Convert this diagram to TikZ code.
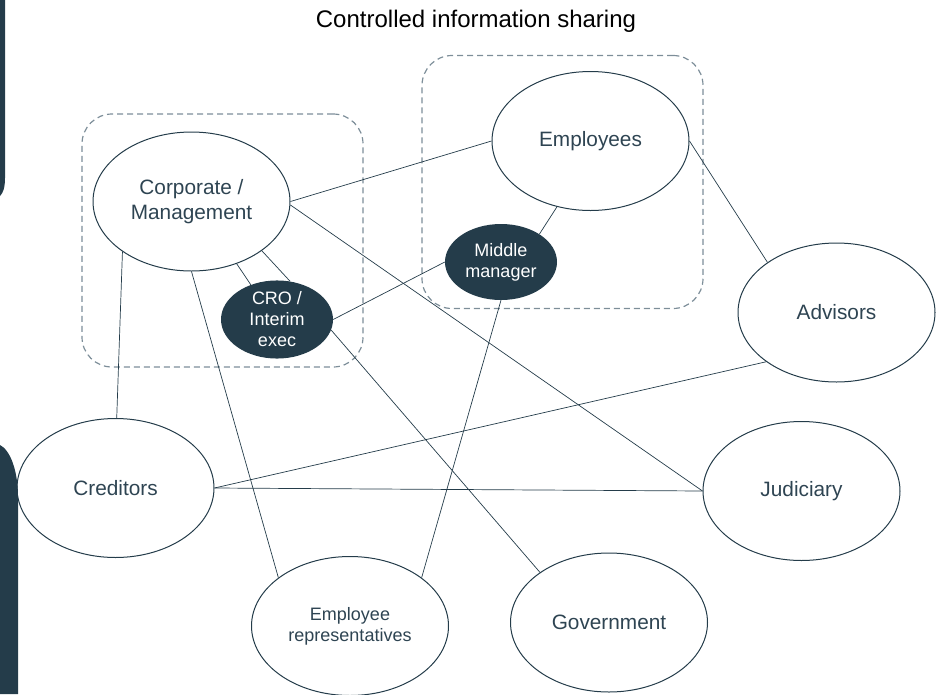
\documentclass[tikz,border=0pt]{standalone}
\usepackage{fontspec}
\setmainfont{Liberation Sans}
\usetikzlibrary{positioning}
\usetikzlibrary{shapes.geometric}
\definecolor{slate}{HTML}{243C4A}
\definecolor{frame}{HTML}{7D8E99}
\definecolor{ink}{HTML}{2E4452}
\tikzset{party/.style={draw=slate, line width=1pt, ellipse, minimum width=197pt, minimum height=139pt, inner sep=0pt, text=ink, align=center, font=\fontsize{20.8}{25}\selectfont}}
\tikzset{role/.style={ellipse, fill=slate, minimum width=112pt, minimum height=76pt, inner sep=0pt, text=white, align=center, font=\fontsize{18}{21}\selectfont}}
\tikzset{group/.style={draw=frame, line width=1.2pt, dash pattern=on 6pt off 4pt, rounded corners=30pt, minimum width=281pt, minimum height=253pt, inner sep=0pt}}
\tikzset{link/.style={draw=slate, line width=0.7pt}}

\begin{document}
\begin{tikzpicture}[x=1pt, y=-1pt]
        \useasboundingbox (0,0) rectangle (943,694);
        \fill[slate] (0,0) -- (5,0) -- (5,178) .. controls (5,188) and (3,193) .. (0,196) -- cycle;
        \fill[slate] (0,445) .. controls (10,450) and (18,470) .. (18,497) -- (18,694) -- (0,694) -- cycle;

        \node[anchor=base, text=black, font=\fontsize{24}{29}\selectfont] (T) at (476,27) {Controlled information sharing};

        \node[group] (G1) at (222.5,240.5) {};
        \node[group] (G2) at (562.5,182) {};

        \node[party] (C) at (191.5,201.5) {Corporate /\\Management};
        \node[role] (R) at (277,319.5) {CRO /\\Interim\\exec};
        \node[party] (E) at (590.5,141) {Employees};
        \node[role] (M) at (501,262) {Middle\\manager};
        \node[party] (A) at (836.5,312.5) {Advisors};
        \node[party] (Cr) at (115.5,488) {Creditors};
        \node[party] (J) at (801.5,491) {Judiciary};
        \node[party] (Gv) at (609,622.5) {Government};
        \node[party, font=\fontsize{18}{21}\selectfont] (Er) at (350,626) {Employee\\representatives};

        \draw[link] (C.east) -- (E.west);
        \draw[link] (C.-2) -- (J.west);
        \draw[link] (C.216) -- (Cr.89);
        \draw[link] (C.south) -- (Er.146);
        \draw[link] (C.306) -- (R.127);
        \draw[link] (C.325) -- (R.71);

        \draw[link] (R.east) -- (M.west);
        \draw[link] (R.349) -- (Gv.144);

        \draw[link] (M.36) -- (E.243);
        \draw[link] (M.south) -- (Er.34);

        \draw[link] (E.east) -- (A.144);
        \draw[link] (A.215) -- (Cr.east);
        \draw[link] (Cr.east) -- (J.west);
    \end{tikzpicture}
\end{document}
